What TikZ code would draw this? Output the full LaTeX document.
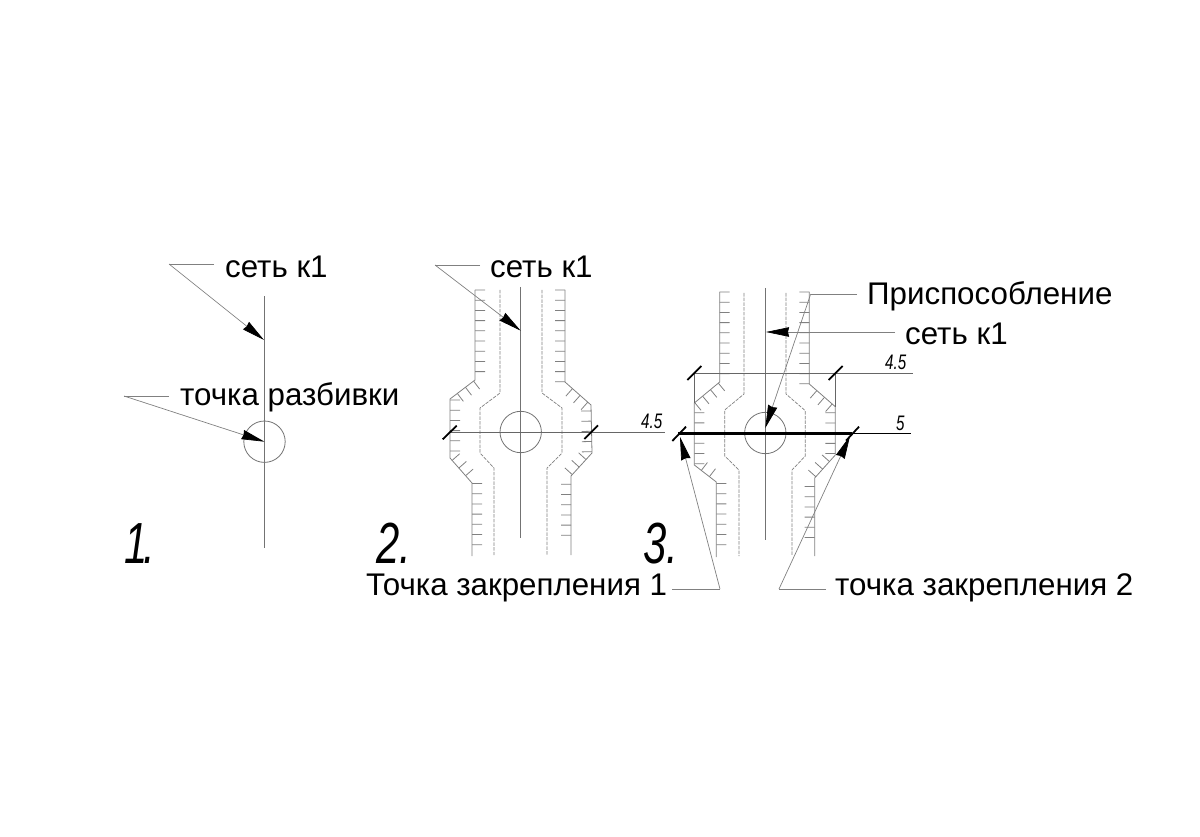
\documentclass[tikz,border=0pt]{standalone}
\usepackage{fontspec}
\setmainfont{Liberation Sans}
\newfontfamily\gostfont[FakeStretch=0.72]{Liberation Sans Italic}
\usepackage{tikz}
\usetikzlibrary{arrows.meta,decorations.pathreplacing}
\tikzset{
  axisline/.style={draw=black!55,line width=0.8pt},
  wallleft/.style={draw=black!50,line width=0.8pt,postaction={decorate,draw=black!50,decoration={border,segment length=10.2pt,amplitude=10pt,angle=90}}},
  wallright/.style={draw=black!50,line width=0.8pt,postaction={decorate,draw=black!50,decoration={border,segment length=10.2pt,amplitude=10pt,angle=-90}}},
  trench/.style={draw=black!50,line width=0.7pt,dash pattern=on 3.5pt off 1.2pt},
  leader/.style={draw=black!50,line width=0.7pt},
  pointer/.style={leader,-{Stealth[length=23pt,width=9.5pt,inset=1pt,black]}},
  dimline/.style={draw=black!60,line width=0.9pt},
  slash/.style={draw=black,line width=1.8pt},
  caption/.style={font=\fontsize{31.3}{31.3}\selectfont,anchor=base west,inner sep=0pt},
  dimtext/.style={font=\gostfont\fontsize{21}{21}\selectfont,anchor=base west,inner sep=0pt},
  stepnum/.style={font=\gostfont\fontsize{58}{58}\selectfont,anchor=base west,inner sep=0pt}
}
\begin{document}
\begin{tikzpicture}[x=1pt,y=-1pt]
\useasboundingbox (0,0) rectangle (1200,837);
% first
\draw[axisline] (264,296) -- (264,548);
\coordinate (c1) at (264.5,441.7);
\draw[axisline] (c1) circle[radius=20.7pt];
\node[stepnum] (n1) at (124,563) {1\hspace{-4pt}.};
\node[caption] (net1) at (225,277) {сеть к1};
\node[caption] (mark1) at (180,405) {точка разбивки};
\coordinate (net1a) at (214,264);
\coordinate (net1b) at (169,264);
\coordinate (net1t) at (264,340);
\coordinate (mark1a) at (169,396);
\coordinate (mark1b) at (124,396);
\draw[leader] (net1a) -- (net1b);
\draw[pointer] (net1b) -- (net1t);
\draw[leader] (mark1a) -- (mark1b);
\draw[pointer] (mark1b) -- (c1);
% second
\draw[axisline] (520.7,287) -- (520.7,538);
\coordinate (c2) at (520.7,432);
\draw[axisline] (c2) circle[radius=20.7pt];
\draw[trench] (500,290) -- (500,393) -- (480,408) -- (480,453) -- (494,468) -- (494,555);
\draw[trench] (542,290) -- (542,393) -- (562,408) -- (562,453) -- (547,468) -- (547,555);
\draw[wallleft] (475,290) -- (475,380) -- (450,399) -- (450,458) -- (472,483) -- (472,556);
\draw[wallright] (565,290) -- (565,382) -- (591,405) -- (592,453) -- (571,476) -- (571,555);
\coordinate (dim2a) at (450,432);
\coordinate (dim2b) at (665,432);
\draw[dimline] (dim2a) -- (dim2b);
\draw[slash] (442.7,439.3) -- (456.7,425.7);
\draw[slash] (584.3,439) -- (598,425.3);
\node[dimtext] (d2) at (641,428) {4.5};
\node[stepnum] (n2) at (376,563) {2.};
\node[caption] (net2) at (490,278) {сеть к1};
\coordinate (net2a) at (480,265);
\coordinate (net2b) at (435,265);
\coordinate (net2t) at (520.7,330.7);
\draw[leader] (net2a) -- (net2b);
\draw[pointer] (net2b) -- (net2t);
% third
\draw[axisline] (765.3,288) -- (765.3,540);
\coordinate (c3) at (765.3,433);
\draw[axisline] (c3) circle[radius=20.7pt];
\draw[trench] (744,293) -- (744,394) -- (724.7,410) -- (724.7,456) -- (739,470) -- (739,556);
\draw[trench] (786,293) -- (786,394) -- (805.3,410.7) -- (805.3,456) -- (792,470) -- (792,556);
\draw[wallleft] (719.7,292) -- (719.7,382) -- (694.3,403) -- (694.3,465) -- (716.3,482) -- (716.3,557);
\draw[wallright] (809.3,292) -- (809.3,384) -- (835.3,406.7) -- (835.3,455) -- (814.7,478) -- (814.7,556);
\coordinate (dim3a) at (694,373);
\coordinate (dim3b) at (913,373);
\coordinate (dim3c) at (835,373);
\draw[dimline] (dim3a) -- (dim3b);
\draw[dimline] (dim3a) -- (694,403);
\draw[dimline] (dim3c) -- (835,407);
\draw[slash] (687.3,380) -- (701.3,366);
\draw[slash] (828.7,380) -- (842.7,366);
\node[dimtext] (d3) at (885,369) {4.5};
\coordinate (fix1) at (678,433);
\coordinate (fix2) at (852,433);
\coordinate (dim4) at (911,433);
\draw[black,line width=3pt] (fix1) -- (fix2);
\draw[draw=black,line width=1pt] (fix2) -- (dim4);
\draw[slash] (672.3,441) -- (686,426.7);
\draw[slash] (846,440.7) -- (859,426.7);
\node[dimtext] (d4) at (896,430) {5};
\node[stepnum] (n3) at (643,563) {3.};
\node[caption] (tool) at (867,305) {Приспособление};
\node[caption] (net3) at (905,344) {сеть к1};
\node[caption] (pin1) at (366,595) {Точка закрепления 1};
\node[caption] (pin2) at (835,595) {точка закрепления 2};
\coordinate (toola) at (857,294);
\coordinate (toolb) at (810.7,294);
\coordinate (toolt) at (765.3,428);
\coordinate (net3a) at (895,332);
\coordinate (net3t) at (766,332);
\coordinate (pin1a) at (672,589);
\coordinate (pin1b) at (720,589);
\coordinate (pin1t) at (680,437);
\coordinate (pin2a) at (826,589);
\coordinate (pin2b) at (779,589);
\coordinate (pin2t) at (850,436);
\draw[leader] (toola) -- (toolb);
\draw[pointer] (toolb) -- (toolt);
\draw[pointer] (net3a) -- (net3t);
\draw[leader] (pin1a) -- (pin1b);
\draw[pointer] (pin1b) -- (pin1t);
\draw[leader] (pin2a) -- (pin2b);
\draw[pointer] (pin2b) -- (pin2t);
\end{tikzpicture}
\end{document}
